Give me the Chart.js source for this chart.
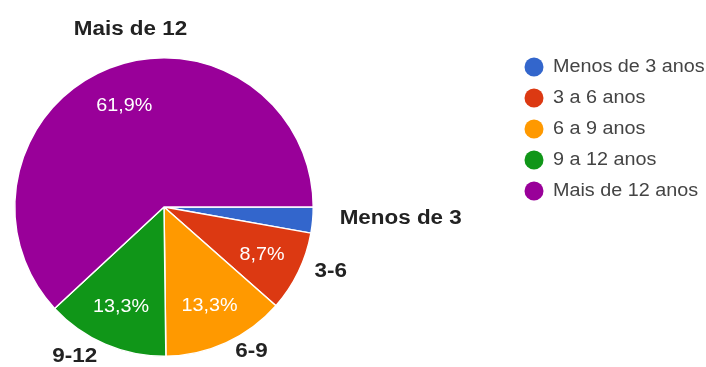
<!DOCTYPE html>
<html>
<head>
<meta charset="utf-8">
<script src="https://cdn.jsdelivr.net/npm/chart.js@4/dist/chart.umd.min.js"></script>
<style>
  html, body { margin: 0; padding: 0; background: #ffffff; }
  #wrap { width: 706px; height: 367px; }
</style>
</head>
<body>
<div id="wrap"><canvas id="c" width="706" height="367"></canvas></div>
<script>
// Tempo de serviço dos respondentes
const categories = ['Menos de 3 anos', '3 a 6 anos', '6 a 9 anos', '9 a 12 anos', 'Mais de 12 anos'];
const sliceLabels = ['Menos de 3', '3-6', '6-9', '9-12', 'Mais de 12'];
const shares = [2.8, 8.7, 13.3, 13.3, 61.9];
const colors = ['#3366cc', '#dc3912', '#ff9900', '#109618', '#990099'];

// Outside-label placement relative to each slice's outer edge: [dx, dy, align]
const outsideNudge = [[27, -1, 'left'], [16, 0, 'left'], [9, 9, 'left'], [-8, 12, 'right'], [21, -38, 'center']];

function stretchedText(ctx, text, x, y, align, font, color, sx) {
  ctx.save();
  ctx.font = font;
  ctx.fillStyle = color;
  ctx.textBaseline = 'middle';
  const w = ctx.measureText(text).width * sx;
  let left = x;
  if (align === 'center') left = x - w / 2;
  else if (align === 'right') left = x - w;
  ctx.translate(left, y);
  ctx.scale(sx, 1);
  ctx.textAlign = 'left';
  ctx.fillText(text, 0, 0);
  ctx.restore();
}

const pieLabels = {
  id: 'pieLabels',
  afterDatasetsDraw(chart) {
    const ctx = chart.ctx;
    const meta = chart.getDatasetMeta(0);
    meta.data.forEach((arc, i) => {
      const p = arc.getProps(['x', 'y', 'startAngle', 'endAngle', 'outerRadius'], true);
      const mid = (p.startAngle + p.endAngle) / 2;
      const cos = Math.cos(mid), sin = Math.sin(mid);
      const v = shares[i];
      if (v >= 5) {
        const rr = p.outerRadius * 0.73;
        stretchedText(ctx, v.toFixed(1).replace('.', ',') + '%', p.x + rr * cos, p.y + rr * sin,
          'center', '19px "Liberation Sans", Arial, sans-serif', '#ffffff', 1.04);
      }
      const ex = p.x + p.outerRadius * cos, ey = p.y + p.outerRadius * sin;
      const n = outsideNudge[i];
      stretchedText(ctx, sliceLabels[i], ex + n[0], ey + n[1], n[2],
        'bold 19.5px "Liberation Sans", Arial, sans-serif', '#222222', 1.15);
    });
  }
};

const sideLegend = {
  id: 'sideLegend',
  afterDraw(chart) {
    const ctx = chart.ctx;
    categories.forEach((name, i) => {
      const cy = 67 + i * 31;
      ctx.save();
      ctx.beginPath();
      ctx.arc(534, cy, 9.5, 0, Math.PI * 2);
      ctx.fillStyle = colors[i];
      ctx.fill();
      ctx.restore();
      stretchedText(ctx, name, 553, cy, 'left', '17.5px "Liberation Sans", Arial, sans-serif', '#444444', 1.13);
    });
  }
};

new Chart(document.getElementById('c'), {
  type: 'pie',
  data: {
    labels: categories,
    datasets: [{
      data: shares,
      backgroundColor: colors,
      borderColor: '#ffffff',
      borderWidth: 1.5
    }]
  },
  options: {
    responsive: false,
    animation: false,
    rotation: 90,
    layout: { padding: { left: 14, top: 57, right: 392, bottom: 10 } },
    plugins: {
      legend: { display: false },
      tooltip: { enabled: false }
    }
  },
  plugins: [pieLabels, sideLegend]
});
</script>
</body>
</html>
